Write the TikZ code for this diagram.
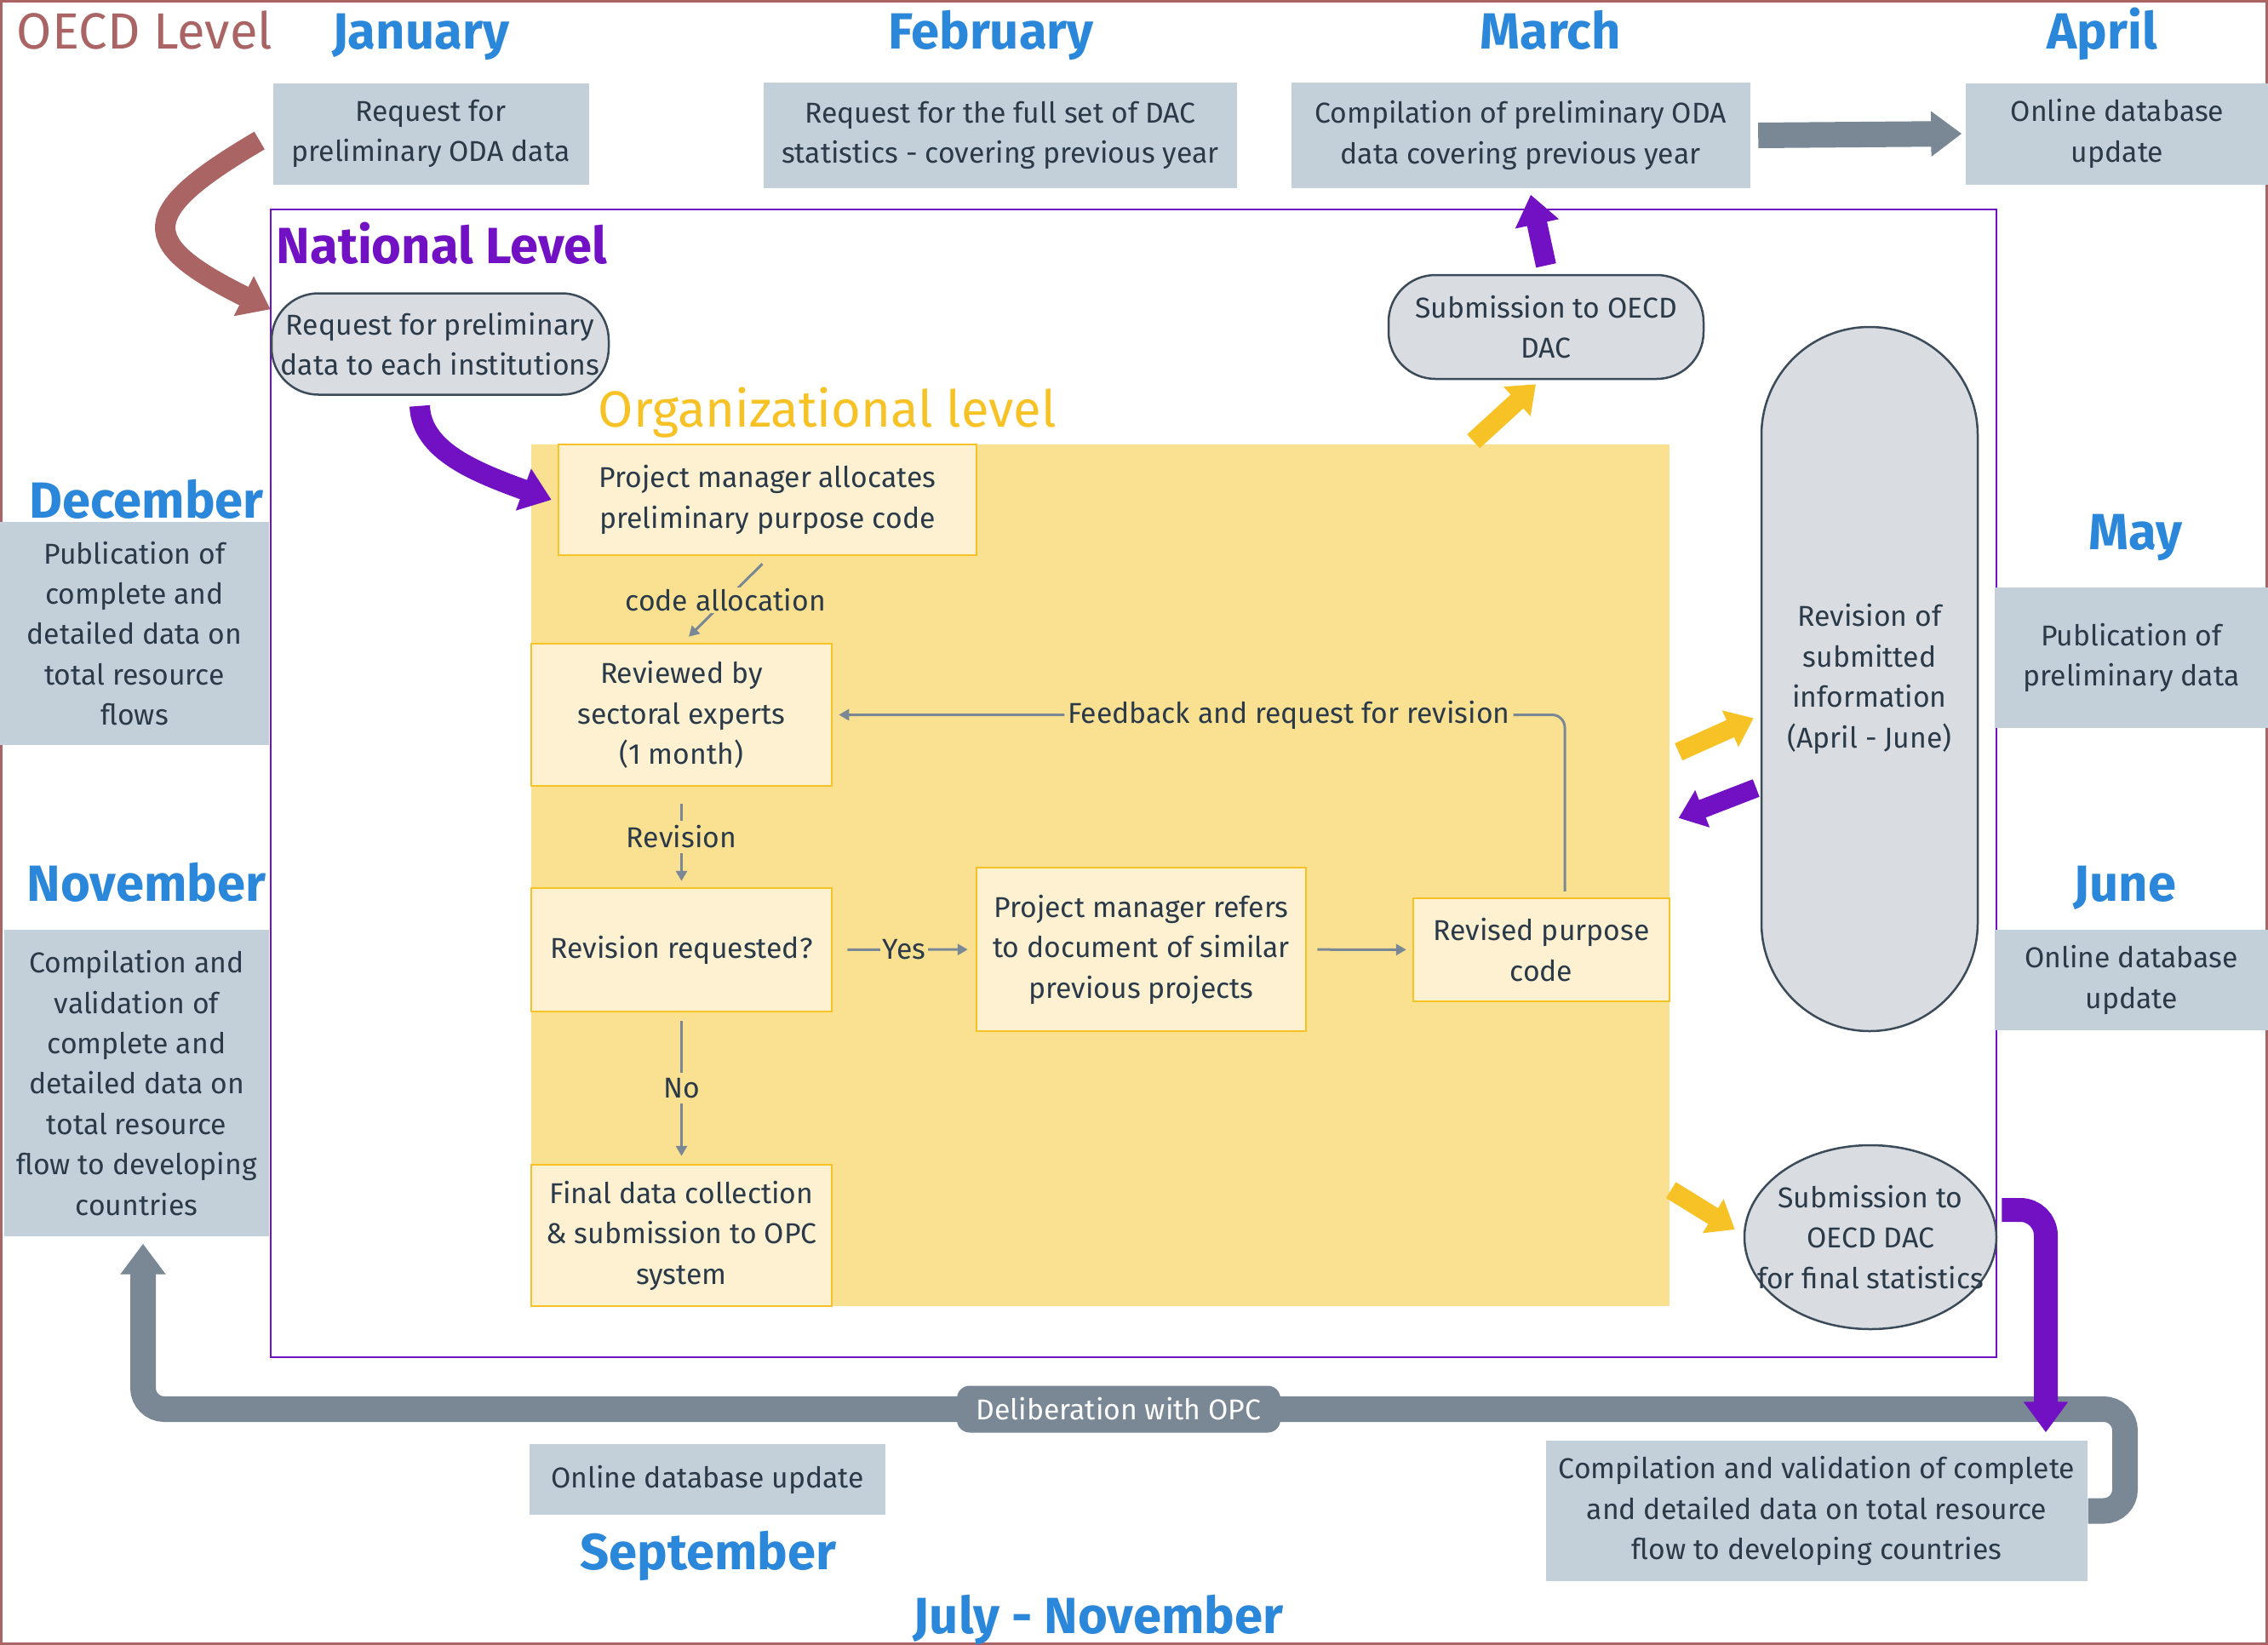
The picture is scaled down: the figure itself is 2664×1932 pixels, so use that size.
\documentclass[tikz,border=0pt]{standalone}
\usepackage{fontspec}
\setmainfont{Fira Sans}
\usepackage{tikz}
\usetikzlibrary{arrows.meta,shapes.geometric}

\definecolor{monthblue}{HTML}{2B87D9}
\definecolor{oecdred}{HTML}{AA6464}
\definecolor{natpurple}{HTML}{7210C4}
\definecolor{ygold}{HTML}{F6C226}
\definecolor{orgbgcol}{HTML}{FAE192}
\definecolor{yfill}{HTML}{FDF1D2}
\definecolor{boxgrey}{HTML}{C4D0D9}
\definecolor{pillgrey}{HTML}{D9DDE1}
\definecolor{pillline}{HTML}{3C4B59}
\definecolor{flowgrey}{HTML}{7A8896}
\definecolor{txtdark}{HTML}{2B3A48}

\newcommand{\bodytext}{\fontsize{9.6}{13.5}\selectfont}
\newcommand{\headtext}{\fontsize{17}{18}\selectfont}

\tikzstyle{greybox} = [fill=boxgrey, text=txtdark, align=center, inner sep=0pt, font=\bodytext]
\tikzstyle{ybox} = [fill=yfill, draw=ygold, line width=0.25mm, text=txtdark, align=center, inner sep=0pt, font=\bodytext]
\tikzstyle{pillbox} = [fill=pillgrey, draw=pillline, line width=0.25mm, text=txtdark, align=center, inner sep=0pt, font=\bodytext]
\tikzstyle{monthlbl} = [text=monthblue, font=\headtext\bfseries, inner sep=0pt, anchor=base]
\tikzstyle{flow} = [draw=flowgrey, line width=0.3mm, -{Triangle[length=1.2mm,width=1.3mm]}]
\tikzstyle{flowlbl} = [fill=orgbgcol, text=txtdark, font=\bodytext, inner sep=0.6mm]
\tikzstyle{fat} = [line width=2.4mm, -{Triangle[length=3.5mm,width=5mm]}]

\begin{document}
\begin{tikzpicture}[x=0.1mm,y=-0.1mm]
\useasboundingbox (0,0) rectangle (2664,1932);
\draw[oecdred,line width=0.3mm] (1.5,1.5) rectangle (2662.5,1930.5);

% OECD level and months on top
\node[monthlbl,text=oecdred,font=\headtext] (oecdlvl) at (170,57) {OECD Level};
\node[monthlbl] (jan) at (494,57) {January};
\node[monthlbl] (feb) at (1164,57) {February};
\node[monthlbl] (mar) at (1821,57) {March};
\node[monthlbl] (apr) at (2469,57) {April};

\node[greybox,minimum width=37.1mm,minimum height=11.9mm] (reqoda) at (506,157) {Request for\\preliminary ODA data};
\node[greybox,minimum width=55.6mm,minimum height=12.4mm] (reqdac) at (1175,159) {Request for the full set of DAC\\statistics - covering previous year};
\node[greybox,minimum width=53.9mm,minimum height=12.4mm] (compprel) at (1786,159) {Compilation of preliminary ODA\\data covering previous year};
\node[greybox,minimum width=35.6mm,minimum height=11.9mm] (onlineapr) at (2487,157) {Online database\\update};

% National level
\draw[natpurple,line width=0.25mm] (318,246) rectangle (2345,1594);
\node[monthlbl,text=natpurple,anchor=base west] (natlvl) at (324,309) {National Level};
\node[pillbox,rounded corners=5.5mm,minimum width=39.6mm,minimum height=11.9mm] (natreq) at (517,404) {Request for preliminary\\data to each institutions};
\node[pillbox,rounded corners=5.5mm,minimum width=37mm,minimum height=12.2mm] (subdac) at (1816,384) {Submission to OECD\\DAC};
\node[pillbox,rounded corners=12.7mm,minimum width=25.4mm,minimum height=82.7mm] (revinfo) at (2196,797.5) {Revision of\\submitted\\information\\(April - June)};
\node[pillbox,ellipse,minimum width=29.6mm,minimum height=21.6mm] (subfinal) at (2197,1453) {};
\node[text=txtdark,font=\bodytext,align=center,inner sep=0pt] (subfinaltxt) at (subfinal.center) {Submission to\\OECD DAC\\for final statistics};

% Organizational level
\node[fill=orgbgcol,minimum width=133.7mm,minimum height=101.2mm,inner sep=0pt] (orgbg) at (1292.5,1028) {};
\node[monthlbl,text=ygold,font=\headtext,anchor=base west] (orglvl) at (702,501) {Organizational level};

\node[ybox,minimum width=49.1mm,minimum height=13mm] (pmalloc) at (901.5,587) {Project manager allocates\\preliminary purpose code};
\node[ybox,minimum width=35.3mm,minimum height=16.7mm] (reviewed) at (800.5,839.5) {Reviewed by\\sectoral experts\\(1 month)};
\node[ybox,minimum width=35.3mm,minimum height=14.5mm] (revreq) at (800.5,1115.5) {Revision requested?};
\node[ybox,minimum width=35.3mm,minimum height=16.6mm] (final) at (800.5,1451) {Final data collection\\\& submission to OPC\\system};
\node[ybox,minimum width=38.7mm,minimum height=19.2mm] (pmrefers) at (1340.5,1115) {Project manager refers\\to document of similar\\previous projects};
\node[ybox,minimum width=30.1mm,minimum height=12.1mm] (revised) at (1810.5,1115.5) {Revised purpose\\code};

\draw[flow] ([xshift=-0.6mm,yshift=-0.9mm]pmalloc.south) -- node[flowlbl,inner sep=0.2mm] {code allocation} ([xshift=0.85mm,yshift=0.7mm]reviewed.north);
\draw[flow,shorten <=2mm,shorten >=0.7mm] (reviewed) -- node[flowlbl] {Revision} (revreq);
\draw[flow,shorten <=1mm,shorten >=0.9mm] (revreq) -- node[flowlbl] {No} (final);
\draw[flow,shorten <=1.7mm,shorten >=0.9mm] (revreq) -- node[flowlbl,inner sep=0.3mm] {Yes} (pmrefers);
\draw[flow,shorten <=1.2mm,shorten >=0.7mm] (pmrefers) -- (revised);
\draw[flow,rounded corners=1.5mm] ([xshift=2.75mm,yshift=0.7mm]revised.north) |- node[flowlbl,pos=0.69,inner sep=0.4mm] {Feedback and request for revision} ([xshift=0.7mm]reviewed.east);

% left side months
\node[monthlbl] (dec) at (172,608) {December};
\node[greybox,minimum width=31.6mm,minimum height=26.2mm] (pubcomp) at (158,744) {Publication of\\complete and\\detailed data on\\total resource\\flows};
\node[monthlbl] (nov) at (172,1058) {November};
\node[greybox,minimum width=31.1mm,minimum height=36mm] (compval) at (160.5,1272) {Compilation and\\validation of\\complete and\\detailed data on\\total resource\\flow to developing\\countries};

% right side months
\node[monthlbl] (may) at (2508,645) {May};
\node[greybox,minimum width=32.1mm,minimum height=16.5mm] (pubprel) at (2503.5,772.5) {Publication of\\preliminary data};
\node[monthlbl] (jun) at (2496,1058) {June};
\node[greybox,minimum width=32.1mm,minimum height=11.8mm] (onlinejun) at (2503.5,1151) {Online database\\update};

% bottom
\node[greybox,minimum width=41.8mm,minimum height=8.3mm] (onlinesep) at (831,1737.5) {Online database update};
\node[monthlbl] (sep) at (832,1843) {September};
\node[greybox,minimum width=63.6mm,minimum height=16.5mm] (compfin) at (2134,1774.5) {Compilation and validation of complete\\and detailed data on total resource\\flow to developing countries};
\node[monthlbl] (julnov) at (1290,1918) {July - November};

\draw[fat,flowgrey,line width=3mm,-{Triangle[length=3.6mm,width=5.1mm]},rounded corners=2.5mm] (compfin.east) -| (2496,1655) -| ([xshift=0.75mm,yshift=-0.8mm]compval.south);
\node[fill=flowgrey,text=white,font=\bodytext,rounded corners=1.5mm,minimum width=38mm,minimum height=5.5mm,inner sep=0pt] (delib) at (1314,1655) {Deliberation with OPC};

% thick arrows
\draw[fat,oecdred] ([xshift=-1.5mm,yshift=-0.8mm]reqoda.west) .. controls (160,250) and (160,285) .. ([yshift=-2mm]natreq.north west);
\draw[fat,natpurple] ([xshift=-2.4mm,yshift=-1.2mm]natreq.south) .. controls (495,530) and (560,555) .. ([xshift=-0.7mm]pmalloc.west);
\draw[fat,natpurple] ([yshift=1mm]subdac.north) -- ([xshift=1.2mm,yshift=-0.7mm]compprel.south);
\draw[fat,flowgrey,line width=3mm,-{Triangle[length=3.6mm,width=5.1mm]}] ([xshift=0.9mm]compprel.east) -- ([xshift=-0.4mm]onlineapr.west);
\draw[fat,ygold,line width=2.2mm,-{Triangle[length=3mm,width=4.5mm]}] ([xshift=-23.1mm,yshift=0.3mm]orgbg.north east) -- ([xshift=-1.2mm,yshift=-0.5mm]subdac.south);
\draw[fat,ygold,line width=2.2mm,-{Triangle[length=3mm,width=4.5mm]}] ([xshift=1mm,yshift=14.5mm]orgbg.east) -- ([xshift=-0.8mm,yshift=-4.6mm]revinfo.center -| revinfo.west);
\draw[fat,natpurple,line width=2.2mm,-{Triangle[length=3mm,width=4.5mm]}] ([xshift=-0.5mm,yshift=-12.8mm]revinfo.center -| revinfo.west) -- ([xshift=1mm,yshift=57.4mm]orgbg.south east);
\draw[fat,ygold,line width=2.2mm,-{Triangle[length=3mm,width=4.5mm]}] ([xshift=0.1mm,yshift=13.7mm]orgbg.south east) -- ([xshift=-1mm,yshift=0.9mm]subfinal.west);
\draw[fat,natpurple,line width=2.8mm,-{Triangle[length=3.6mm,width=5mm]},rounded corners=3mm] ([xshift=0.5mm,yshift=3.2mm]subfinal.east) -| ([xshift=26.9mm,yshift=0.9mm]compfin.north);

\end{tikzpicture}
\end{document}
